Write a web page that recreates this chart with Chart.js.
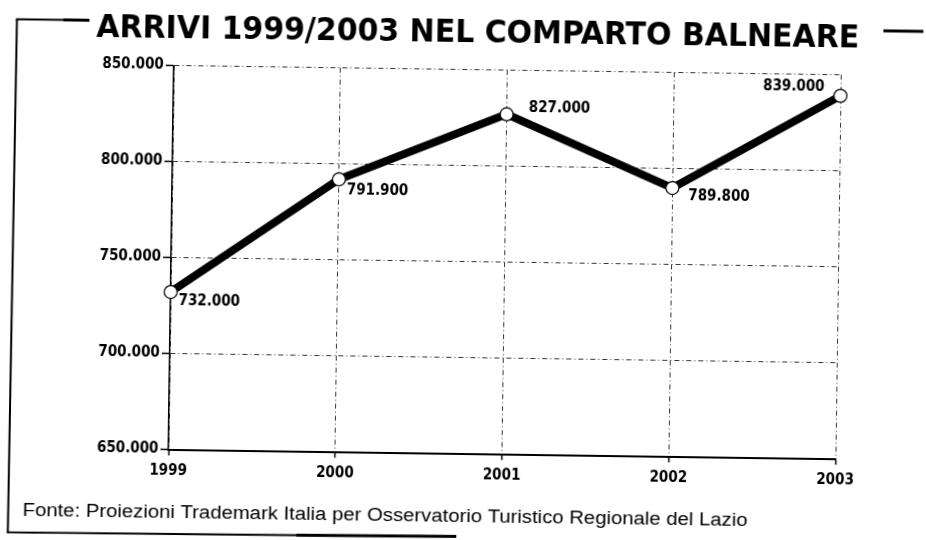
<!DOCTYPE html>
<html lang="it">
<head>
<meta charset="utf-8">
<title>Arrivi 1999/2003 nel comparto balneare</title>
<script src="https://cdn.jsdelivr.net/npm/chart.js@4.4.1/dist/chart.umd.min.js"></script>
<style>
  html, body { margin: 0; padding: 0; background: #fff; overflow: hidden; }
  /* la pagina originale e' una scansione leggermente storta */
  #wrap { width: 926px; height: 540px; transform: rotate(0.8deg); }
</style>
</head>
<body>
<div id="wrap"><canvas id="grafico" width="926" height="540"></canvas></div>
<script>
const anni = ['1999', '2000', '2001', '2002', '2003'];
const arrivi = [732000, 791900, 827000, 789800, 839000];
const tickArrivi = [650000, 700000, 750000, 800000, 850000];

const titolo = 'ARRIVI 1999/2003 NEL COMPARTO BALNEARE';
const fonte = 'Fonte: Proiezioni Trademark Italia per Osservatorio Turistico Regionale del Lazio';

// posizione delle etichette rispetto al punto
const posEtichette = [
    { dx: 8, dy: 9, align: 'left' },
    { dx: 8, dy: 11, align: 'left' },
    { dx: 22, dy: -7, align: 'left' },
    { dx: 16, dy: 8, align: 'left' },
    { dx: -16, dy: -9, align: 'right' }
];

const FONT_NUM = "'DejaVu Sans Condensed', 'DejaVu Sans', sans-serif";

// 850000 -> "850.000"
function formatNum(v) {
    return String(v).replace(/\B(?=(\d{3})+(?!\d))/g, '.');
}

// scrive un testo stirandolo fino alla larghezza voluta
function testoLargo(ctx, testo, x, y, larghezza, font) {
    ctx.font = font;
    const w = ctx.measureText(testo).width;
    ctx.save();
    ctx.translate(x, y);
    ctx.scale(larghezza / w, 1);
    ctx.fillText(testo, 0, 0);
    ctx.restore();
}

function linea(ctx, x1, y1, x2, y2, w) {
    ctx.lineWidth = w;
    ctx.beginPath();
    ctx.moveTo(x1, y1);
    ctx.lineTo(x2, y2);
    ctx.stroke();
}

const cornice = {
    id: 'cornice',
    beforeDraw(chart) {
        const ctx = chart.ctx;
        ctx.save();
        ctx.fillStyle = '#fff';
        ctx.fillRect(0, 0, chart.width, chart.height);

        ctx.strokeStyle = '#000';
        linea(ctx, 13.5, 25.5, 11.5, 540, 2);
        linea(ctx, 12.5, 25.5, 60, 25.5, 2);
        linea(ctx, 60, 25.5, 86, 25.5, 3);
        linea(ctx, 880, 25, 920, 25, 3);
        linea(ctx, 11.5, 538.8, 300, 537.5, 2);
        linea(ctx, 300, 537.5, 460, 536.5, 3);

        ctx.fillStyle = '#000';
        ctx.textBaseline = 'alphabetic';
        ctx.textAlign = 'left';
        testoLargo(ctx, titolo, 93, 42, 763, "bold 32px 'DejaVu Sans Condensed', 'DejaVu Sans', sans-serif");
        testoLargo(ctx, fonte, 26, 522, 725, "18px 'Liberation Sans', Arial, sans-serif");
        ctx.restore();
    },
    afterDatasetsDraw(chart) {
        const ctx = chart.ctx;
        const meta = chart.getDatasetMeta(0);
        ctx.save();
        ctx.fillStyle = '#000';
        ctx.font = 'bold 15px ' + FONT_NUM;
        ctx.textBaseline = 'middle';
        meta.data.forEach((pt, i) => {
            const p = posEtichette[i];
            ctx.textAlign = p.align;
            ctx.fillText(formatNum(arrivi[i]), pt.x + p.dx, pt.y + p.dy);
        });
        ctx.restore();
    }
};

new Chart(document.getElementById('grafico'), {
    type: 'line',
    data: {
        labels: anni,
        datasets: [{
            data: arrivi,
            borderColor: '#000',
            borderWidth: 8,
            tension: 0,
            fill: false,
            clip: false,
            pointRadius: 6.5,
            pointBackgroundColor: '#fff',
            pointBorderColor: '#000',
            pointBorderWidth: 1.2
        }]
    },
    options: {
        responsive: false,
        animation: false,
        devicePixelRatio: 1,
        layout: { padding: { top: 69.5, right: 88, bottom: 54, left: 0 } },
        plugins: {
            legend: { display: false },
            tooltip: { enabled: false },
            title: { display: false }
        },
        scales: {
            x: {
                offset: false,
                grid: { color: '#333', lineWidth: 1, tickLength: 6, tickColor: '#000', tickWidth: 1.5, tickBorderDash: [] },
                border: { display: true, color: '#000', width: 2, dash: [5, 3, 1, 3] },
                ticks: { color: '#000', font: { family: FONT_NUM, size: 15, weight: 'bold' }, padding: 6.5, maxRotation: 0 },
                afterFit(scale) { scale.height = 32.5; }
            },
            y: {
                min: 650000,
                max: 850000,
                afterBuildTicks(scale) {
                    scale.ticks = tickArrivi.map(v => ({ value: v }));
                },
                grid: { color: '#333', lineWidth: 1, tickLength: 8, tickColor: '#000', tickWidth: 1.5, tickBorderDash: [] },
                border: { display: true, color: '#000', width: 1.5, dash: [5, 3, 1, 3] },
                ticks: {
                    color: '#000',
                    font: { family: FONT_NUM, size: 15, weight: 'bold' },
                    padding: 2,
                    callback: v => formatNum(v)
                },
                afterFit(scale) { scale.width = 171; }
            }
        }
    },
    plugins: [cornice]
});
</script>
</body>
</html>
